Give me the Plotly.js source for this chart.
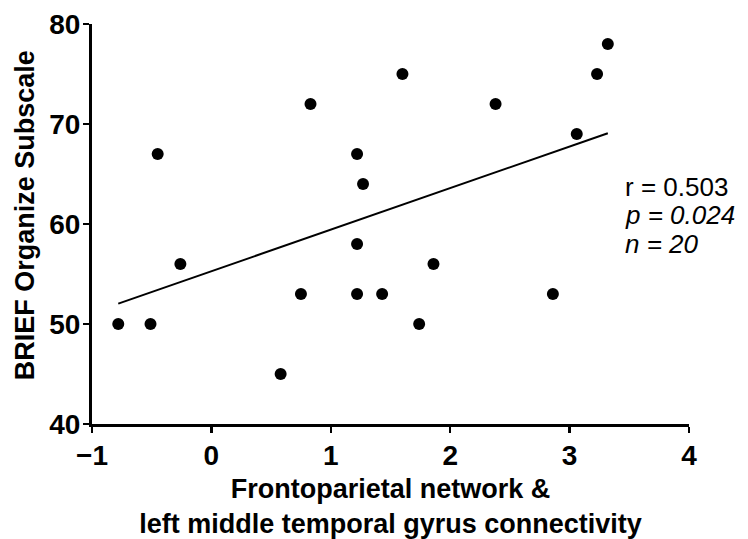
<!DOCTYPE html>
<html>
<head>
<meta charset="utf-8">
<script src="https://cdn.plot.ly/plotly-3.0.1.min.js"></script>
<style>html,body{margin:0;padding:0;background:#fff;}#chart{width:748px;height:539px;}</style>
</head>
<body>
<div id="chart"></div>
<script>
// Data
const connectivity = [-0.78, -0.51, -0.26, -0.45, 0.58, 0.75, 0.83, 1.22, 1.27, 1.22, 1.22, 1.43, 1.74, 1.86, 1.60, 2.38, 2.86, 3.06, 3.23, 3.32];
const briefOrganize = [50, 50, 56, 67, 45, 53, 72, 67, 64, 58, 53, 53, 50, 56, 75, 72, 53, 69, 75, 78];
const xTickValues = [-1, 0, 1, 2, 3, 4];
const yTickValues = [40, 50, 60, 70, 80];
const statsLines = ["r = 0.503", "<i>p = 0.024</i>", "<i>n = 20</i>"];
const xTitle = "Frontoparietal network &<br>left middle temporal gyrus connectivity";
const yTitle = "BRIEF Organize Subscale";

// Least-squares fit line over the data range
const n = connectivity.length;
const mx = connectivity.reduce((a, b) => a + b, 0) / n;
const my = briefOrganize.reduce((a, b) => a + b, 0) / n;
let sxy = 0, sxx = 0;
for (let i = 0; i < n; i++) {
  sxy += (connectivity[i] - mx) * (briefOrganize[i] - my);
  sxx += (connectivity[i] - mx) ** 2;
}
const slope = sxy / sxx;
const intercept = my - slope * mx;
const fitX = [Math.min(...connectivity), Math.max(...connectivity)];
const fitY = fitX.map(x => intercept + slope * x);

const FONT = "Arial, 'Liberation Sans', Helvetica, sans-serif";
const W = 748, H = 539;
const M = {l: 92, r: 58.5, t: 24, b: 114.5};
const plotW = W - M.l - M.r, plotH = H - M.t - M.b;
const px2paperX = px => (px - M.l) / plotW;
const px2paperY = py => (H - M.b - py) / plotH;

const traces = [
  {
    x: fitX, y: fitY, type: "scatter", mode: "lines",
    line: {color: "#000", width: 2}, hoverinfo: "skip", showlegend: false
  },
  {
    x: connectivity, y: briefOrganize, type: "scatter", mode: "markers",
    marker: {color: "#000", size: 12}, showlegend: false
  }
];

const statsY = [187, 215.5, 244];
const annotations = statsLines.map((t, i) => ({
  xref: "paper", yref: "paper", x: px2paperX(623), y: px2paperY(statsY[i]),
  xanchor: "left", yanchor: "middle", align: "left", showarrow: false,
  text: t, font: {family: FONT, size: 26, color: "#000"}
}));
annotations.push({
  xref: "paper", yref: "paper", x: px2paperX(25), y: px2paperY(215.5),
  xanchor: "center", yanchor: "middle", textangle: -90, showarrow: false,
  text: "<b>" + yTitle + "</b>", font: {family: FONT, size: 27, color: "#000"}
});

const layout = {
  width: W, height: H,
  margin: M,
  paper_bgcolor: "#fff", plot_bgcolor: "#fff",
  font: {family: FONT, color: "#000"},
  showlegend: false,
  xaxis: {
    range: [-1, 4], tickvals: xTickValues, ticktext: xTickValues.map(v => v < 0 ? "\u2212" + Math.abs(v) : String(v)),
    showgrid: false, zeroline: false, showline: true, linecolor: "#000", linewidth: 3,
    ticks: "outside", ticklen: 6, tickwidth: 2.5, tickcolor: "#000",
    tickfont: {family: FONT, size: 28, color: "#000", weight: "bold"},
    ticklabelstandoff: -2,
    title: {text: "<b>" + xTitle + "</b>", font: {family: FONT, size: 27, color: "#000"}, standoff: 10},
    automargin: false
  },
  yaxis: {
    range: [40, 80], tickvals: yTickValues,
    showgrid: false, zeroline: false, showline: true, linecolor: "#000", linewidth: 3,
    ticks: "outside", ticklen: 6, tickwidth: 2.5, tickcolor: "#000",
    tickfont: {family: FONT, size: 28, color: "#000", weight: "bold"},
    ticklabelstandoff: -3,
    automargin: false
  },
  annotations: annotations
};

Plotly.newPlot("chart", traces, layout, {displayModeBar: false, staticPlot: true});
</script>
</body>
</html>
